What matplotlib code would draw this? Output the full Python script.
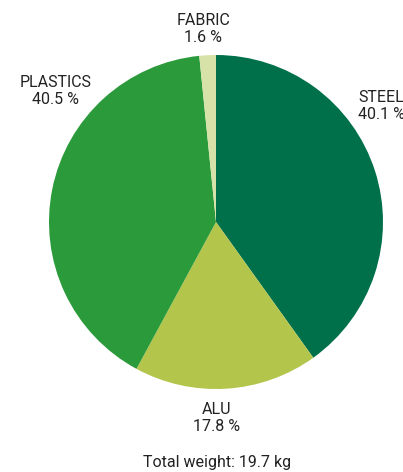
import matplotlib.pyplot as plt

materials = ['STEEL', 'ALU', 'PLASTICS', 'FABRIC']
shares = [40.1, 17.8, 40.5, 1.6]
colors = ['#00704a', '#b3c54b', '#2b9a3b', '#d6e2a8']
total_weight = 19.7

plt.rcParams['font.family'] = ['Roboto', 'DejaVu Sans']

W, H = 403, 472
fig = plt.figure(figsize=(W / 100, H / 100), dpi=100)

# pie centered at about (216, 222) px, radius 167 px
cx, cy, r = 216, 222, 167
ax = fig.add_axes([(cx - r) / W, (H - cy - r) / H, 2 * r / W, 2 * r / H])
ax.pie(shares, colors=colors, startangle=90, counterclock=False,
       wedgeprops=dict(linewidth=0))
ax.set_xlim(-1, 1)
ax.set_ylim(-1, 1)
ax.axis('off')

# label positions in pixels (x, y of text center, alignment)
label_pos = {
    'STEEL': (358, 106, 'left'),
    'ALU': (217, 418, 'center'),
    'PLASTICS': (56, 91, 'center'),
    'FABRIC': (203, 29, 'center'),
}
for name, val in zip(materials, shares):
    x, y, ha = label_pos[name]
    fig.text(x / W, 1 - y / H, f'{name}\n{val} %', ha=ha, va='center',
             fontsize=11.5, color='#222222', linespacing=1.2)

fig.text(217 / W, 1 - 462 / H, f'Total weight: {total_weight} kg',
         ha='center', va='center', fontsize=11.5, color='#222222')

fig.savefig('out.png', dpi=100)
